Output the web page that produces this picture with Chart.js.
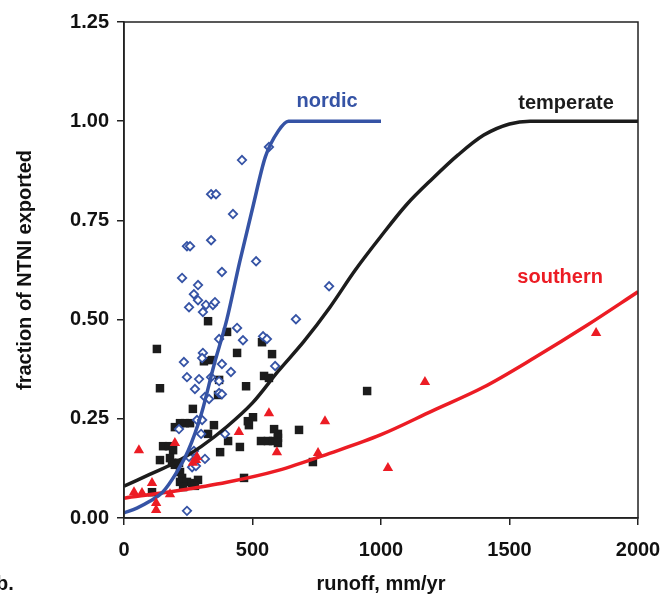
<!DOCTYPE html>
<html>
<head>
<meta charset="utf-8">
<script src="https://cdn.jsdelivr.net/npm/chart.js@4"></script>
<style>
  html, body { margin: 0; padding: 0; background: #fff; }
</style>
</head>
<body>
<canvas id="runoffChart" width="662" height="598"></canvas>
<script>
// observed catchments
const nordicRunoff = [564, 459, 339, 358, 424, 339, 245, 257, 514, 381, 226, 288, 272, 288, 253, 319, 346, 354, 307, 798, 669, 440, 370, 463, 541, 556, 307, 304, 233, 381, 416, 588, 245, 292, 339, 370, 276, 370, 381, 315, 331, 284, 304, 214, 300, 393, 272, 253, 315, 265, 280, 245];
const nordicFraction = [0.935, 0.902, 0.816, 0.816, 0.766, 0.700, 0.685, 0.685, 0.647, 0.620, 0.605, 0.587, 0.564, 0.549, 0.531, 0.537, 0.537, 0.544, 0.519, 0.584, 0.501, 0.479, 0.451, 0.448, 0.458, 0.451, 0.416, 0.403, 0.393, 0.388, 0.368, 0.383, 0.355, 0.350, 0.355, 0.345, 0.325, 0.315, 0.312, 0.305, 0.300, 0.247, 0.247, 0.224, 0.212, 0.212, 0.169, 0.154, 0.149, 0.128, 0.131, 0.018];

const temperateRunoff = [327, 401, 128, 537, 440, 576, 342, 311, 140, 370, 366, 545, 564, 475, 946, 268, 482, 502, 486, 350, 198, 218, 237, 257, 327, 584, 599, 599, 681, 405, 533, 560, 580, 599, 451, 374, 152, 175, 191, 140, 179, 187, 198, 214, 218, 226, 218, 245, 265, 288, 276, 230, 109, 467, 735];
const temperateFraction = [0.496, 0.469, 0.426, 0.443, 0.416, 0.413, 0.398, 0.395, 0.327, 0.348, 0.310, 0.358, 0.353, 0.332, 0.320, 0.275, 0.244, 0.254, 0.234, 0.234, 0.229, 0.239, 0.239, 0.239, 0.212, 0.224, 0.212, 0.202, 0.222, 0.194, 0.194, 0.194, 0.194, 0.189, 0.179, 0.166, 0.181, 0.181, 0.171, 0.146, 0.151, 0.139, 0.134, 0.139, 0.116, 0.101, 0.091, 0.091, 0.088, 0.096, 0.081, 0.078, 0.065, 0.101, 0.141];

const southernRunoff = [58, 198, 564, 447, 595, 782, 755, 284, 280, 268, 109, 39, 70, 179, 125, 125, 1171, 1027, 1837];
const southernFraction = [0.171, 0.189, 0.264, 0.217, 0.166, 0.244, 0.164, 0.154, 0.146, 0.139, 0.088, 0.065, 0.063, 0.060, 0.038, 0.020, 0.343, 0.126, 0.466];

// fitted export curves
const nordicCurveX = [0, 50, 100, 150, 200, 250, 300, 350, 400, 450, 500, 550, 600, 640, 1000];
const nordicCurveY = [0.013, 0.025, 0.042, 0.065, 0.11, 0.17, 0.26, 0.385, 0.50, 0.645, 0.78, 0.91, 0.975, 1.0, 1.0];

const temperateCurveX = [0, 100, 200, 300, 400, 500, 600, 700, 800, 900, 1000, 1100, 1200, 1300, 1400, 1500, 1580, 2000];
const temperateCurveY = [0.08, 0.11, 0.14, 0.18, 0.23, 0.29, 0.37, 0.445, 0.53, 0.625, 0.71, 0.79, 0.855, 0.915, 0.965, 0.993, 1.0, 1.0];

const southernCurveX = [0, 200, 400, 600, 800, 1000, 1200, 1400, 1600, 1800, 2000];
const southernCurveY = [0.05, 0.068, 0.09, 0.12, 0.163, 0.21, 0.27, 0.33, 0.405, 0.485, 0.57];

const xTicks = [0, 500, 1000, 1500, 2000];
const yTicks = [0, 0.25, 0.5, 0.75, 1.0, 1.25];

const curveLabels = [
  { text: "nordic", x: 790, y: 1.05, color: "#3553a5" },
  { text: "temperate", x: 1720, y: 1.045, color: "#1c1c1c" },
  { text: "southern", x: 1697, y: 0.607, color: "#ec1c24" },
];

const BLUE = "#3553a5";
const RED = "#ec1c24";
const BLACK = "#1c1c1c";
const FONT = "'Liberation Sans', Arial, Helvetica, sans-serif";

function zip(xs, ys) {
  return xs.map((x, i) => ({ x: x, y: ys[i] }));
}

const framePlugin = {
  id: "frame",
  afterDatasetsDraw(chart) {
    const { ctx, chartArea: a, scales } = chart;
    ctx.save();
    ctx.strokeStyle = "#222";
    ctx.lineWidth = 1.5;
    ctx.strokeRect(a.left, a.top, a.right - a.left, a.bottom - a.top);

    ctx.font = "bold 20px " + FONT;
    ctx.textAlign = "center";
    ctx.textBaseline = "middle";
    curveLabels.forEach(l => {
      ctx.fillStyle = l.color;
      ctx.fillText(l.text, scales.x.getPixelForValue(l.x), scales.y.getPixelForValue(l.y));
    });

    ctx.fillStyle = "#111";
    ctx.textAlign = "left";
    ctx.fillText("b.", -4, 584);
    ctx.restore();
  },
};

const lineDataset = (label, xs, ys, color) => ({
  label: label,
  data: zip(xs, ys),
  showLine: true,
  borderColor: color,
  borderWidth: 3.5,
  pointRadius: 0,
  cubicInterpolationMode: "monotone",
  fill: false,
  order: 1,
});

const chart = new Chart(document.getElementById("runoffChart"), {
  type: "scatter",
  data: {
    datasets: [
      lineDataset("nordic fit", nordicCurveX, nordicCurveY, BLUE),
      lineDataset("temperate fit", temperateCurveX, temperateCurveY, BLACK),
      lineDataset("southern fit", southernCurveX, southernCurveY, RED),
      {
        label: "nordic",
        data: zip(nordicRunoff, nordicFraction),
        pointStyle: "rectRot",
        pointRadius: 4.2,
        pointBackgroundColor: "#fff",
        pointBorderColor: BLUE,
        pointBorderWidth: 1.8,
        order: 2,
      },
      {
        label: "temperate",
        data: zip(temperateRunoff, temperateFraction),
        pointStyle: "rect",
        pointRadius: 6,
        pointBackgroundColor: BLACK,
        pointBorderColor: BLACK,
        pointBorderWidth: 0,
        order: 3,
      },
      {
        label: "southern",
        data: zip(southernRunoff, southernFraction),
        pointStyle: "triangle",
        pointRadius: 6,
        pointBackgroundColor: RED,
        pointBorderColor: RED,
        pointBorderWidth: 0,
        order: 0,
      },
    ],
  },
  options: {
    responsive: false,
    animation: false,
    layout: { padding: { top: 22, right: 24, left: 0, bottom: 0 } },
    plugins: {
      legend: { display: false },
      tooltip: { enabled: false },
    },
    scales: {
      x: {
        type: "linear",
        min: 0,
        max: 2000,
        afterFit: scale => {
          scale.height = 80;
          scale.paddingLeft = 0;
          scale.paddingRight = 0;
        },
        afterBuildTicks: scale => { scale.ticks = xTicks.map(v => ({ value: v })); },
        grid: { drawOnChartArea: false, tickLength: 7, color: "#222", lineWidth: 1.5 },
        border: { color: "#222", width: 1.5 },
        ticks: {
          color: "#111",
          font: { family: FONT, size: 20, weight: "bold" },
          padding: 13,
          maxRotation: 0,
          callback: v => String(v),
        },
        title: {
          display: true,
          text: "runoff, mm/yr",
          color: "#111",
          font: { family: FONT, size: 20, weight: "bold" },
          padding: { top: 0, bottom: 2 },
        },
      },
      y: {
        type: "linear",
        min: 0,
        max: 1.25,
        afterFit: scale => {
          scale.width = 124;
          scale.paddingTop = 0;
          scale.paddingBottom = 0;
        },
        afterBuildTicks: scale => { scale.ticks = yTicks.map(v => ({ value: v })); },
        grid: { drawOnChartArea: false, tickLength: 7, color: "#222", lineWidth: 1.5 },
        border: { color: "#222", width: 1.5 },
        ticks: {
          color: "#111",
          font: { family: FONT, size: 20, weight: "bold" },
          padding: 8,
          callback: v => v.toFixed(2),
        },
        title: {
          display: true,
          text: "fraction of NTNI exported",
          color: "#111",
          font: { family: FONT, size: 20, weight: "bold" },
          padding: { top: 13, bottom: 0 },
        },
      },
    },
  },
  plugins: [framePlugin],
});
</script>
</body>
</html>
